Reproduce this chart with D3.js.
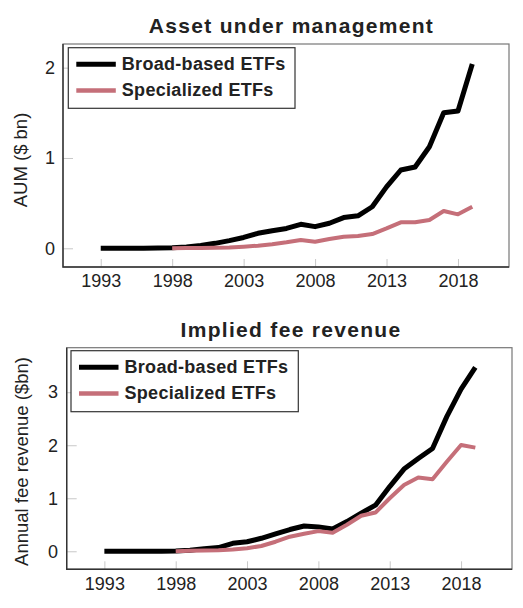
<!DOCTYPE html>
<html>
<head>
<meta charset="utf-8">
<script src="https://cdn.jsdelivr.net/npm/d3@7"></script>
<style>
  body { margin: 0; background: #fff; }
  text { font-family: "Liberation Sans", Arial, sans-serif; }
</style>
</head>
<body>
<div id="field"></div>
<script>
'use strict';

// 年
const years = d3.range(1993, 2020);
const xTicks = [1993, 1998, 2003, 2008, 2013, 2018];
const seriesNames = ['Broad-based ETFs', 'Specialized ETFs'];

// AUM ($ bn)
const aumBroad = [0, 0, 0, 0, 0.002, 0.005, 0.015, 0.03, 0.055, 0.085, 0.12, 0.166, 0.195, 0.22, 0.266, 0.24,
                  0.277, 0.34, 0.36, 0.46, 0.68, 0.867, 0.90, 1.125, 1.50, 1.52, 2.04];
const aumSpec = [null, null, null, null, null, 0, 0.002, 0.004, 0.007, 0.01, 0.018, 0.029, 0.044, 0.066, 0.092, 0.073,
                 0.103, 0.128, 0.136, 0.158, 0.22, 0.288, 0.288, 0.313, 0.413, 0.376, 0.46];
const aumTicks = [0, 1, 2];

// Annual fee revenue ($bn)
const feeBroad = [0, 0, 0, 0, 0.002, 0.005, 0.02, 0.05, 0.07, 0.15, 0.18, 0.245, 0.33, 0.41, 0.477, 0.46,
                  0.42, 0.56, 0.72, 0.87, 1.22, 1.55, 1.75, 1.94, 2.54, 3.06, 3.47];
const feeSpec = [null, null, null, null, null, 0, 0.008, 0.015, 0.02, 0.035, 0.057, 0.10, 0.18, 0.275, 0.33, 0.38,
                 0.35, 0.5, 0.67, 0.73, 1.0, 1.25, 1.39, 1.36, 1.69, 2.005, 1.955];
const feeTicks = [0, 1, 2, 3];

const colors = ['#000000', '#c56f79'];
const widths = [5, 4];

const W = 523, H = 608;
const svg = d3.select('#field').append('svg').attr('width', W).attr('height', H);

function panel(setting) {
  const g = svg.append('g');
  const m = setting.frame;  // [x0, y0, x1, y1]
  const x = d3.scaleLinear().domain([1990.36, 2021.57]).range([m[0], m[2]]);
  const y = d3.scaleLinear().domain(setting.yDomain).range([m[3], m[1]]);

  // タイトル
  g.append('text')
    .attr('x', setting.titleX).attr('y', setting.titleY)
    .attr('text-anchor', 'middle')
    .attr('font-size', '21px').attr('font-weight', 'bold')
    .attr('letter-spacing', '1.3px')
    .attr('fill', '#222')
    .text(setting.title);

  // 軸
  const xAxis = d3.axisTop(x).tickValues(xTicks).tickFormat(d3.format('d')).tickSize(8).tickSizeOuter(0);
  const gx = g.append('g').attr('transform', 'translate(0,' + m[3] + ')').call(xAxis);
  gx.select('.domain').remove();
  gx.selectAll('line').attr('stroke', '#c8c8c8');
  gx.selectAll('text')
    .attr('y', 7.5).attr('dy', '0.71em')
    .attr('font-size', '18px').attr('fill', '#222')
    .attr('font-family', '"Liberation Sans", Arial, sans-serif');

  const yAxis = d3.axisRight(y).tickValues(setting.yTicks).tickFormat(d3.format('d')).tickSize(10).tickSizeOuter(0);
  const gy = g.append('g').attr('transform', 'translate(' + m[0] + ',0)').call(yAxis);
  gy.select('.domain').remove();
  gy.selectAll('line').attr('stroke', '#c8c8c8');
  gy.selectAll('text')
    .attr('x', setting.yLabelX - m[0]).attr('text-anchor', 'end')
    .attr('font-size', '18px').attr('fill', '#222')
    .attr('font-family', '"Liberation Sans", Arial, sans-serif');

  // 枠
  g.append('rect')
    .attr('x', m[0]).attr('y', m[1]).attr('width', m[2] - m[0]).attr('height', m[3] - m[1])
    .attr('fill', 'none').attr('stroke', '#777').attr('stroke-width', 1.2);
  g.append('path')
    .attr('d', 'M' + m[0] + ',' + m[1] + 'V' + m[3] + 'H' + m[2])
    .attr('fill', 'none').attr('stroke', '#333').attr('stroke-width', 1.4);

  // y軸タイトル
  g.append('text')
    .attr('transform', 'translate(' + setting.yTitleX + ',' + setting.yTitleY + ') rotate(-90)')
    .attr('text-anchor', 'middle')
    .attr('font-size', '18.5px').attr('fill', '#222')
    .text(setting.yTitle);

  // 折れ線
  const line = d3.line()
    .defined(function(d){ return d[1] !== null; })
    .x(function(d){ return x(d[0]); })
    .y(function(d){ return y(d[1]); });

  setting.series.forEach(function(s, i){
    g.append('path')
      .datum(years.map(function(yr, j){ return [yr, s[j]]; }))
      .attr('d', line)
      .attr('fill', 'none')
      .attr('stroke', colors[i])
      .attr('stroke-width', widths[i])
      .attr('stroke-linejoin', 'round');
  });

  // 凡例
  const lg = setting.legend;  // [x0, y0, x1, y1]
  g.append('rect')
    .attr('x', lg[0]).attr('y', lg[1]).attr('width', lg[2] - lg[0]).attr('height', lg[3] - lg[1])
    .attr('fill', '#fff').attr('stroke', '#333').attr('stroke-width', 1.2);
  seriesNames.forEach(function(name, i){
    const ly = lg[1] + 16.5 + i * 26.3;
    g.append('line')
      .attr('x1', lg[0] + 8).attr('x2', lg[0] + 47.5)
      .attr('y1', ly).attr('y2', ly)
      .attr('stroke', colors[i]).attr('stroke-width', i === 0 ? 5 : 4.5);
    g.append('text')
      .attr('x', lg[0] + 53.5).attr('y', ly + 5.5)
      .attr('font-size', '18px').attr('font-weight', 'bold')
      .attr('letter-spacing', '0.3px')
      .attr('fill', '#222')
      .text(name);
  });
}

panel({
  title: 'Asset under management',
  titleX: 291.5, titleY: 33,
  frame: [63, 44, 509, 267],
  yDomain: [-0.207, 2.262],
  yTicks: aumTicks,
  yLabelX: 55,
  yTitle: 'AUM ($ bn)',
  yTitleX: 26.5, yTitleY: 160,
  legend: [68.3, 47.7, 295, 108.3],
  series: [aumBroad, aumSpec]
});

panel({
  title: 'Implied fee revenue',
  titleX: 291, titleY: 336.5,
  frame: [66.7, 347.7, 512, 569.3],
  yDomain: [-0.34, 3.84],
  yTicks: feeTicks,
  yLabelX: 58,
  yTitle: 'Annual fee revenue ($bn)',
  yTitleX: 28, yTitleY: 461.5,
  legend: [71, 350.7, 298.3, 411.7],
  series: [feeBroad, feeSpec]
});
</script>
</body>
</html>
